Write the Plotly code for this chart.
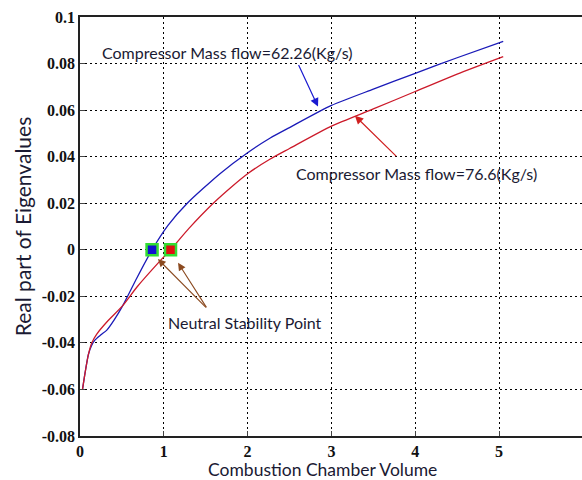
import plotly.graph_objects as go

# Data
x_blue = [0.03, 0.06, 0.1, 0.14, 0.18, 0.25, 0.32, 0.41, 0.51, 0.68, 0.86, 1.05, 1.28, 1.67, 2.0, 2.27, 2.5, 3.0, 3.5, 4.0, 4.5, 5.05]
y_blue = [-0.060, -0.053, -0.045, -0.041, -0.0387, -0.0365, -0.0345, -0.030, -0.024, -0.012, 0.0, 0.0105, 0.020, 0.0327, 0.0417, 0.048, 0.0525, 0.062, 0.069, 0.0758, 0.0825, 0.0895]
x_red = [0.03, 0.06, 0.1, 0.14, 0.2, 0.32, 0.51, 0.68, 0.95, 1.08, 1.3, 1.59, 1.8, 2.0, 2.27, 2.5, 3.0, 3.5, 4.0, 4.5, 5.05]
y_red = [-0.060, -0.053, -0.045, -0.040, -0.0362, -0.031, -0.024, -0.016, -0.005, 0.0, 0.0092, 0.020, 0.0268, 0.0327, 0.039, 0.0435, 0.0531, 0.0605, 0.068, 0.0755, 0.083]
stab_x = [0.86, 1.08]
stab_y = [0.0, 0.0]
stab_colors = ["#1010d0", "#e01010"]
x_ticks = [0, 1, 2, 3, 4, 5, 6]
y_ticks = [0.1, 0.08, 0.06, 0.04, 0.02, 0, -0.02, -0.04, -0.06, -0.08]
y_ticktext = ["0.1", "0.08", "0.06", "0.04", "0.02", "0", "-0.02", "-0.04", "-0.06", "-0.08"]
label_blue = "Compressor Mass flow=62.26(Kg/s)"
label_red = "Compressor Mass flow=76.6(Kg/s)"
label_ns = "Neutral Stability Point"
x_title = "Combustion Chamber Volume"
y_title = "Real part of Eigenvalues"

fig = go.Figure()
fig.add_trace(go.Scatter(x=x_blue, y=y_blue, mode="lines", line=dict(color="#1a1ab8", width=1.3, shape="spline", smoothing=0.6), showlegend=False))
fig.add_trace(go.Scatter(x=x_red, y=y_red, mode="lines", line=dict(color="#cc1a2a", width=1.3, shape="spline", smoothing=0.6), showlegend=False))
fig.add_trace(go.Scatter(x=stab_x, y=stab_y, mode="markers",
                         marker=dict(symbol="square", size=11, color=stab_colors, line=dict(color="#33dd33", width=2.5)),
                         showlegend=False))

txt_col = "#1a1a33"
ann = []
ann.append(dict(x=1.755, y=0.0847, text=label_blue, showarrow=False, font=dict(family="Lato", size=16, color=txt_col)))
ann.append(dict(x=4.015, y=0.0327, text=label_red, showarrow=False, font=dict(family="Lato", size=16, color=txt_col)))
ann.append(dict(x=1.97, y=-0.0314, text=label_ns, showarrow=False, font=dict(family="Lato", size=16, color=txt_col)))
ann.append(dict(x=2.84, y=0.0615, ax=2.60, ay=0.080, axref="x", ayref="y", xref="x", yref="y", text="",
                showarrow=True, arrowhead=2, arrowsize=1.4, arrowwidth=1.2, arrowcolor="#1a1ad0"))
ann.append(dict(x=3.28, y=0.0576, ax=3.79, ay=0.0396, axref="x", ayref="y", xref="x", yref="y", text="",
                showarrow=True, arrowhead=2, arrowsize=1.4, arrowwidth=1.2, arrowcolor="#d02020"))
ann.append(dict(x=0.93, y=-0.004, ax=1.52, ay=-0.0254, axref="x", ayref="y", xref="x", yref="y", text="",
                showarrow=True, arrowhead=2, arrowsize=1.4, arrowwidth=1.1, arrowcolor="#8b4a20"))
ann.append(dict(x=1.17, y=-0.0056, ax=1.52, ay=-0.0254, axref="x", ayref="y", xref="x", yref="y", text="",
                showarrow=True, arrowhead=2, arrowsize=1.4, arrowwidth=1.1, arrowcolor="#8b4a20"))
# x-axis title as an annotation to control its position precisely
ann.append(dict(x=0.484, y=0, xref="paper", yref="paper", yanchor="bottom", yshift=-45, borderpad=0, showarrow=False,
                text=x_title, font=dict(family="Lato", size=17.5, color=txt_col)))

tickf = dict(family="Liberation Serif", size=16, color="#111", weight="bold")
grid_kw = dict(showgrid=True, gridcolor="#000", griddash="2px,3px", gridwidth=1)
fig.update_layout(
    width=582, height=480,
    margin=dict(l=80, r=0, t=17, b=44, autoexpand=False),
    paper_bgcolor="white", plot_bgcolor="white",
    annotations=ann,
    xaxis=dict(range=[0, 5.99], tickvals=x_ticks, **grid_kw,
               showline=True, linecolor="#222", linewidth=1.5, mirror=True, ticks="inside", ticklen=5,
               tickfont=tickf, zeroline=False, automargin=False),
    yaxis=dict(range=[-0.08, 0.1], tickvals=y_ticks, ticktext=y_ticktext, **grid_kw,
               showline=True, linecolor="#222", linewidth=1.5, mirror=True, ticks="inside", ticklen=5,
               tickfont=tickf, zeroline=False, automargin=False,
               title=dict(text=y_title, font=dict(family="Lato", size=21, color=txt_col), standoff=4)),
)
fig.write_html("out.html", config={"displayModeBar": False},
               post_script="document.body.style.margin='0';document.body.style.overflow='hidden';")
